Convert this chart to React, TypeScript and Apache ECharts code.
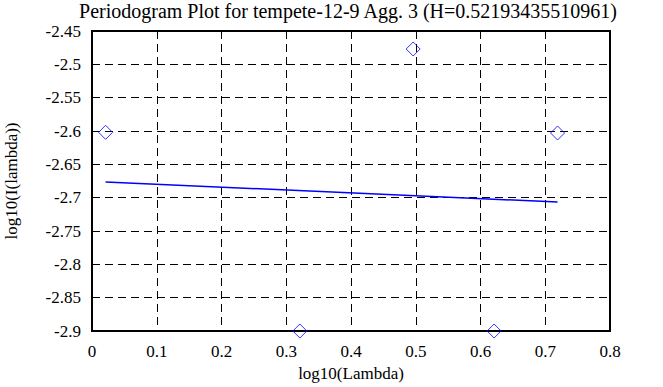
import React, { useEffect, useRef } from "react";
import * as echarts from "echarts";

const TITLE = "Periodogram Plot for tempete-12-9 Agg. 3 (H=0.52193435510961)";
const X_NAME = "log10(Lambda)";
const Y_NAME = "log10(I(lambda))";

const logLambda = [0.021, 0.321, 0.496, 0.621, 0.719];
const logPeriodogram = [-2.602, -2.9, -2.477, -2.9, -2.603];

const fitX = [0.021, 0.719];
const fitY = [-2.6765, -2.7065];

const FONT = "Liberation Serif";

export default function App() {
  const ref = useRef<HTMLDivElement>(null);
  useEffect(() => {
    document.body.style.margin = "0";
    const chart = echarts.init(ref.current!, null, { renderer: "svg" });
    const fmt = (v: number) => String(parseFloat(v.toFixed(2)));
    const tickLabel = {
      fontFamily: FONT,
      fontSize: 17,
      color: "#000",
      formatter: fmt,
    };
    chart.setOption({
      animation: false,
      backgroundColor: "#ffffff",
      textStyle: { fontFamily: FONT },
      graphic: [
        {
          type: "text",
          x: 348,
          y: 11,
          style: {
            text: TITLE,
            font: `20px "Liberation Serif", serif`,
            fill: "#000",
            align: "center",
            verticalAlign: "middle",
          },
        },
      ],
      grid: {
        left: 92,
        right: 53,
        top: 31,
        bottom: 56,
        show: true,
        borderColor: "#000",
        borderWidth: 2,
        backgroundColor: "transparent",
        containLabel: false,
        outerBoundsMode: "none",
      },
      xAxis: {
        type: "value",
        min: 0,
        max: 0.8,
        interval: 0.1,
        name: X_NAME,
        nameLocation: "middle",
        nameGap: 30,
        nameTextStyle: { fontFamily: FONT, fontSize: 17, color: "#000" },
        axisLine: { show: true, onZero: false, lineStyle: { color: "#000", width: 2 } },
        axisTick: { show: false },
        axisLabel: { ...tickLabel, margin: 12 },
        splitLine: { show: true, lineStyle: { color: "#000", type: [8, 5], width: 1 } },
      },
      yAxis: {
        type: "value",
        min: -2.9,
        max: -2.45,
        interval: 0.05,
        name: Y_NAME,
        nameLocation: "middle",
        nameGap: 72,
        nameRotate: 90,
        nameTextStyle: { fontFamily: FONT, fontSize: 17, color: "#000" },
        axisLine: { show: true, onZero: false, lineStyle: { color: "#000", width: 2 } },
        axisTick: { show: false },
        axisLabel: { ...tickLabel, margin: 11 },
        splitLine: { show: true, lineStyle: { color: "#000", type: [8, 5], width: 1 } },
      },
      series: [
        {
          type: "line",
          data: fitX.map((x, i) => [x, fitY[i]]),
          symbol: "none",
          lineStyle: { color: "#0000ff", width: 1.5 },
          z: 3,
        },
        {
          type: "scatter",
          data: logLambda.map((x, i) => [x, logPeriodogram[i]]),
          symbol: "diamond",
          symbolSize: 14,
          itemStyle: { color: "transparent", borderColor: "#0000ff", borderWidth: 1 },
          clip: false,
          z: 4,
        },
      ],
    });
    return () => chart.dispose();
  }, []);
  return <div ref={ref} style={{ width: 663, height: 387 }} />;
}
